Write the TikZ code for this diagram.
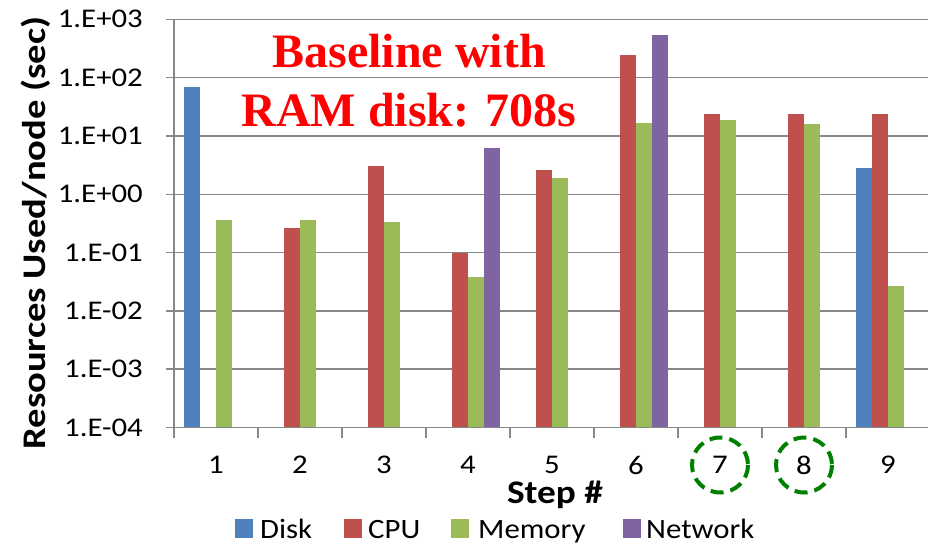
\documentclass[tikz,border=0pt]{standalone}
\usepackage{fontspec}
\setmainfont{Carlito}
\newfontfamily\bannerfont{Liberation Serif}
\usetikzlibrary{calc}

\definecolor{diskblue}{HTML}{4F81BD}
\definecolor{cpured}{HTML}{C0504D}
\definecolor{memgreen}{HTML}{9BBB59}
\definecolor{netpurple}{HTML}{8064A2}
\definecolor{gridgray}{HTML}{888888}
\definecolor{ringgreen}{HTML}{008000}

% chart text is set a little wider than the font
\newcommand{\widetext}[2][1.14]{\scalebox{#1}[1]{#2}}

\begin{document}
\begin{tikzpicture}[x=1pt,y=-1pt,
    gridline/.style={gridgray, line width=1.4pt},
    ticklabel/.style={font=\fontsize{27}{29}\selectfont, anchor=east, inner sep=0pt},
    catlabel/.style={font=\fontsize{27}{29}\selectfont, inner sep=0pt},
    axistitle/.style={font=\bfseries\fontsize{33}{35}\selectfont, inner sep=0pt},
    bannertext/.style={font=\bannerfont\bfseries\fontsize{48}{58}\selectfont, text=red, anchor=base, inner sep=0pt},
    legkey/.style={minimum width=18pt, minimum height=19pt, inner sep=0pt},
    legtext/.style={font=\fontsize{28}{30}\selectfont, anchor=base west, inner sep=0pt},
    ring/.style={ringgreen, line width=4pt, dash pattern=on 13pt off 7pt}]
    \useasboundingbox (0,0) rectangle (928,545);

    % grid and value labels
    \foreach \k/\lab in {0/1.E+03,1/1.E+02,2/1.E+01,3/1.E+00,4/1.E-01,5/1.E-02,6/1.E-03,7/1.E-04} {
        \draw [gridline] (166,{19.3+58.31*\k}) -- (928,{19.3+58.31*\k});
        \node [ticklabel] (ylab\k) at (143,{19.3+58.31*\k}) {\widetext{\lab}};
    }

    % bars: step / slot / colour / value
    \foreach \c/\o/\col/\v in {1/0/diskblue/70, 1/2/memgreen/0.36,
            2/1/cpured/0.264, 2/2/memgreen/0.36,
            3/1/cpured/3.05, 3/2/memgreen/0.33,
            4/1/cpured/0.10, 4/2/memgreen/0.037, 4/3/netpurple/6.2,
            5/1/cpured/2.6, 5/2/memgreen/1.9,
            6/1/cpured/249, 6/2/memgreen/17, 6/3/netpurple/547,
            7/1/cpured/23.4, 7/2/memgreen/18.7,
            8/1/cpured/23.4, 8/2/memgreen/15.8,
            9/0/diskblue/2.78, 9/1/cpured/23.4, 9/2/memgreen/0.027}
        \fill [\col] ({174+84*(\c-0.5)+16*(\o-2)},427.5) rectangle ++(16,{-(ln(\v)/ln(10)+4)*58.31});

    % axes
    \draw [gridline] (174,19.3) -- (174,438);
    \draw [gridline] (174,427.5) -- (928,427.5);
    \foreach \i in {1,...,8}
        \draw [gridline] ({174+84*\i},427.5) -- ({174+84*\i},438);

    % steps
    \foreach \c in {1,...,9}
        \node [catlabel] (step\c) at ({174+84*(\c-0.5)},465) {\widetext{\c}};
    \draw [ring] (step7) ellipse [x radius=28, y radius=27.5];
    \draw [ring] (step8) ellipse [x radius=28, y radius=27.5];

    \node [axistitle] (xtitle) at (555,495) {\widetext[1.13]{Step \#}};
    \node [axistitle, rotate=90] (ytitle) at (36,233) {\widetext[1.17]{Resources Used/node (sec)}};

    \node [bannertext] (bannerTop) at (409,68) {Baseline with};
    \node [bannertext] (bannerBottom) at (409,127) {RAM disk: 708s};

    % legend
    \node [legkey, fill=diskblue] (keyDisk) at (244,528.5) {};
    \node [legtext] (txtDisk) at (260,538) {\widetext[1.1]{Disk}};
    \node [legkey, fill=cpured] (keyCPU) at (352.5,528.5) {};
    \node [legtext] (txtCPU) at (368,538) {\widetext[1.1]{CPU}};
    \node [legkey, fill=memgreen] (keyMem) at (460,528.5) {};
    \node [legtext] (txtMem) at (478,538) {\widetext[1.1]{Memory}};
    \node [legkey, fill=netpurple] (keyNet) at (632,528.5) {};
    \node [legtext] (txtNet) at (646,538) {\widetext[1.1]{Network}};
\end{tikzpicture}
\end{document}
